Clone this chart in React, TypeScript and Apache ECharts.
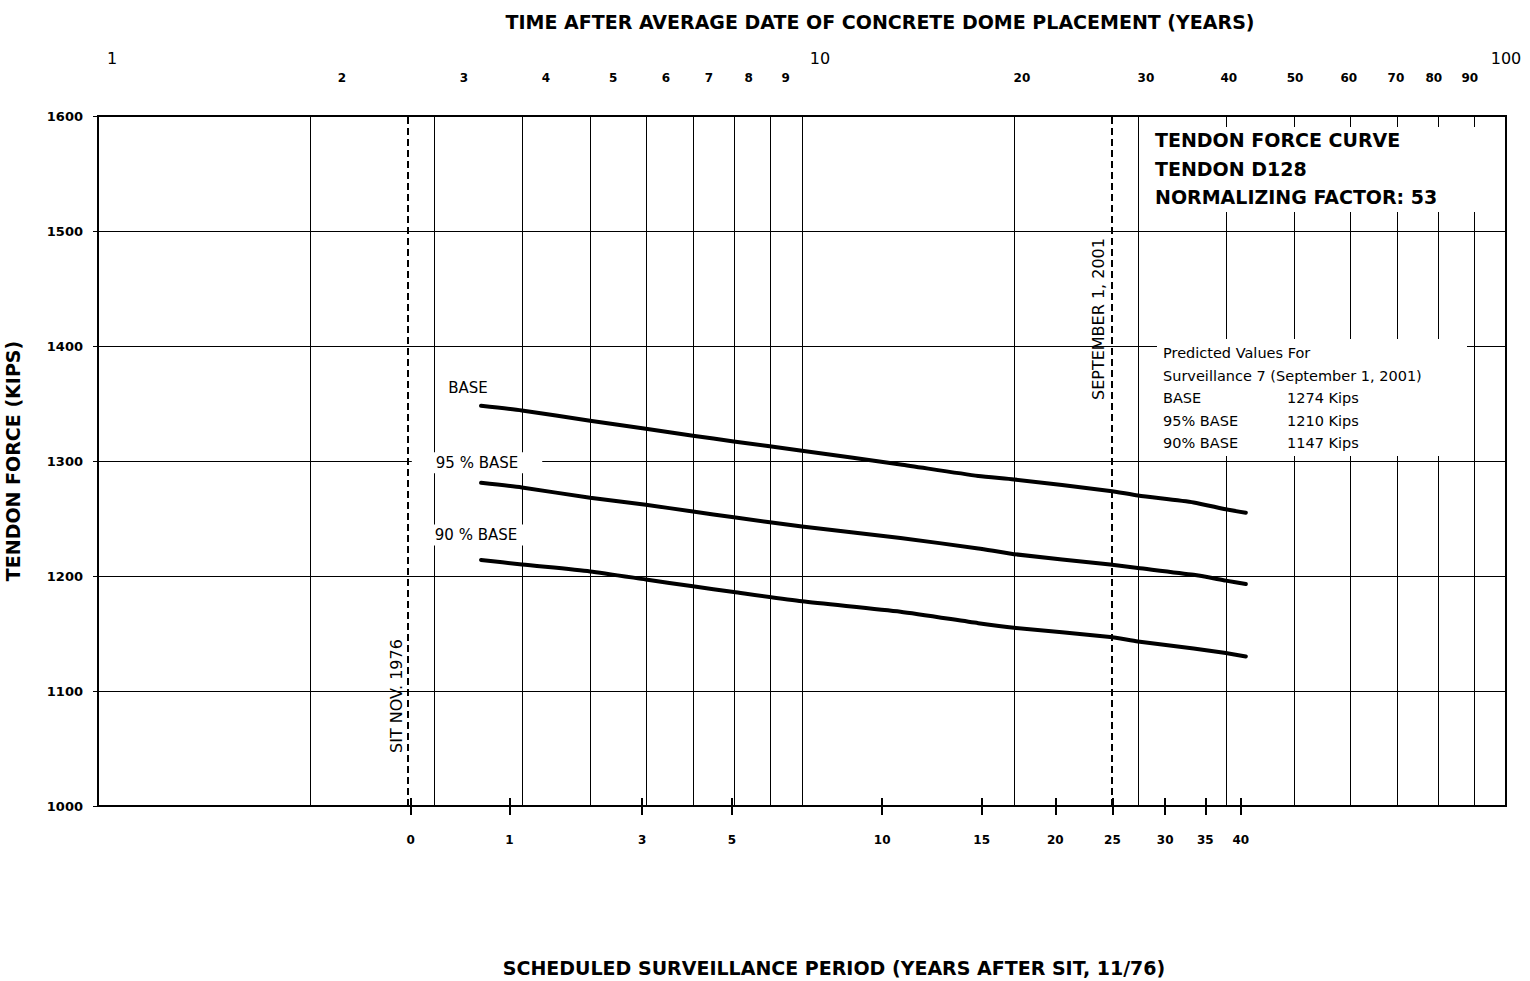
import React, { useEffect, useRef } from 'react';
import * as echarts from 'echarts';

// Time after average date of concrete dome placement (years) for plotted points
const years = [3.5, 4, 5, 6, 7, 8, 10, 13.8, 17.8, 20, 27.4, 30, 36, 40, 42.7];
const baseForce = [1348, 1344, 1335, 1328, 1322, 1317, 1309, 1297, 1287, 1284, 1274, 1270, 1264, 1258, 1255];
const base95Force = [1281, 1277, 1268, 1262, 1256, 1251, 1243, 1233, 1224, 1219, 1210, 1207, 1201, 1196, 1193];
const base90Force = [1214, 1210, 1204, 1197, 1191, 1186, 1178, 1169, 1159, 1155, 1147, 1143, 1137, 1133, 1130];

// Top (log) axis
const decadeLabels = [1, 10, 100];
const minorLabels = [2, 3, 4, 5, 6, 7, 8, 9, 20, 30, 40, 50, 60, 70, 80, 90];
const gridYears = [2, 3, 4, 5, 6, 7, 8, 9, 10, 20, 30, 40, 50, 60, 70, 80, 90];

// Bottom axis: scheduled surveillance period (years after SIT) and where they fall on the time axis
const surveillanceLabels = [0, 1, 3, 5, 10, 15, 20, 25, 30, 35, 40];
const surveillanceYears = [2.78, 3.84, 5.93, 7.95, 13.0, 18.0, 22.9, 27.6, 32.8, 37.4, 42.0];

// Reference dates on the time axis
const sitYear = 2.78;
const sept2001Year = 27.4;

// Force axis
const forceMin = 1000;
const forceMax = 1600;
const forceStep = 100;

// Annotation texts
const headerLines = ['TENDON FORCE CURVE', 'TENDON D128', 'NORMALIZING FACTOR: 53'];
const predictedHead = ['Predicted Values For', 'Surveillance 7 (September 1, 2001)'];
const predictedNames = ['BASE', '95% BASE', '90% BASE'];
const predictedValues = ['1274 Kips', '1210 Kips', '1147 Kips'];

// label shifts (style only) for the top axis labels, in px
const minorShift: Record<string, number> = {
  '2': 32, '3': 30, '4': 24, '5': 23, '6': 20, '7': 16, '8': 15, '9': 16,
  '20': 8, '30': 8, '40': 3, '50': 1, '60': -1, '70': -1, '80': -4, '90': -4,
};
const decadeShift: Record<string, number> = { '1': 14, '10': 18, '100': 0 };

const L = (v: number) => Math.log10(v);
const FONT = "'DejaVu Sans', sans-serif";

export default function App() {
  const ref = useRef<HTMLDivElement>(null);

  useEffect(() => {
    if (!ref.current) return;
    const chart = echarts.init(ref.current, null, { renderer: 'svg' });

    const minorRich: Record<string, any> = {};
    minorLabels.forEach((n) => {
      const s = minorShift[String(n)] || 0;
      minorRich['m' + n] = {
        fontFamily: FONT, fontSize: 12, fontWeight: 'bold', color: '#000',
        padding: s >= 0 ? [0, 0, 0, 2 * s] : [0, -2 * s, 0, 0],
      };
    });
    const decadeRich: Record<string, any> = {};
    decadeLabels.forEach((n) => {
      const s = decadeShift[String(n)] || 0;
      decadeRich['d' + n] = {
        fontFamily: FONT, fontSize: 16, color: '#000',
        padding: [0, 0, 0, 2 * s],
      };
    });

    const survLog = surveillanceYears.map(L);

    const makeData = (vals: number[], text: string, offset: number[], pad: number[]) =>
      years.map((y, i) => {
        const p = [L(y), vals[i]];
        if (i !== 0) return p;
        return {
          value: p,
          label: {
            show: true,
            formatter: text,
            position: 'top',
            distance: 5,
            offset,
            fontFamily: FONT,
            fontSize: 15,
            color: '#000',
            backgroundColor: '#fff',
            padding: pad,
          },
        };
      });

    const lineCommon = {
      type: 'line',
      xAxisIndex: 0,
      yAxisIndex: 0,
      symbol: 'circle',
      symbolSize: 0,
      showSymbol: true,
      smooth: 0.2,
      itemStyle: { color: 'rgba(0,0,0,0)' },
      lineStyle: { color: '#000', width: 4, cap: 'round', join: 'round' },
      label: { show: false },
      emphasis: { disabled: true },
      z: 3,
    };

    const textEl = (text: string, x: number, y: number, size: number, bold: boolean, align = 'left', rotation = 0) => ({
      type: 'text',
      x,
      y,
      rotation,
      z: 60,
      silent: true,
      style: {
        text,
        fill: '#000',
        fontFamily: FONT,
        fontSize: size,
        fontWeight: bold ? 'bold' : 'normal',
        align,
        textAlign: align,
        verticalAlign: 'middle',
        textVerticalAlign: 'middle',
      },
    });

    const graphics: any[] = [
      { type: 'rect', z: 50, silent: true, shape: { x: 1147, y: 127, width: 356, height: 85 }, style: { fill: '#fff' } },
      { type: 'rect', z: 50, silent: true, shape: { x: 1157, y: 339, width: 310, height: 117 }, style: { fill: '#fff' } },
      textEl('TIME AFTER AVERAGE DATE OF CONCRETE DOME PLACEMENT (YEARS)', 880, 22, 19, true, 'center'),
      textEl('SCHEDULED SURVEILLANCE PERIOD (YEARS AFTER SIT, 11/76)', 834, 968, 19, true, 'center'),
      textEl('SEPTEMBER 1, 2001', 1098, 319, 16, false, 'center', Math.PI / 2),
      textEl('SIT NOV. 1976', 396, 696, 16, false, 'center', Math.PI / 2),
    ];
    headerLines.forEach((t, i) => graphics.push(textEl(t, 1155, 140 + i * 28.5, 19, true)));
    predictedHead.forEach((t, i) => graphics.push(textEl(t, 1163, 353 + i * 22.5, 14.5, false)));
    predictedNames.forEach((t, i) => {
      graphics.push(textEl(t, 1163, 398 + i * 22.5, 14.5, false));
      graphics.push(textEl(predictedValues[i], 1287, 398 + i * 22.5, 14.5, false));
    });

    const option: any = {
      animation: false,
      backgroundColor: '#fff',
      grid: {
        left: 98, right: 24, top: 116, bottom: 175,
        show: true, borderColor: '#000', borderWidth: 2, backgroundColor: 'transparent',
        containLabel: false, outerBoundsMode: 'none',
      },
      xAxis: [
        {
          type: 'value', position: 'top', min: 0, max: 2,
          axisLine: { show: false },
          axisTick: { show: false, customValues: gridYears.map(L) },
          axisLabel: {
            customValues: minorLabels.map(L),
            margin: 32,
            formatter: (v: number) => {
              const n = Math.round(Math.pow(10, v));
              return `{m${n}|${n}}`;
            },
            rich: minorRich,
            fontFamily: FONT, fontSize: 12, fontWeight: 'bold', color: '#000',
          },
          splitLine: { show: true, lineStyle: { color: '#000', width: 1 } },
        },
        {
          type: 'value', position: 'top', min: 0, max: 2,
          axisLine: { show: false },
          axisTick: { show: false, customValues: decadeLabels.map(L) },
          axisLabel: {
            customValues: decadeLabels.map(L),
            margin: 50,
            formatter: (v: number) => {
              const n = Math.round(Math.pow(10, v));
              return `{d${n}|${n}}`;
            },
            rich: decadeRich,
            fontFamily: FONT, fontSize: 16, color: '#000',
          },
          splitLine: { show: false },
        },
        {
          type: 'value', position: 'bottom', min: 0, max: 2,
          axisLine: { show: false },
          axisTick: { show: true, customValues: survLog, length: 9, lineStyle: { color: '#000', width: 2 } },
          axisLabel: {
            customValues: survLog,
            margin: 28,
            formatter: (v: number) => {
              const i = survLog.findIndex((s) => Math.abs(s - v) < 1e-6);
              return i >= 0 ? String(surveillanceLabels[i]) : '';
            },
            fontFamily: FONT, fontSize: 12, fontWeight: 'bold', color: '#000',
          },
          splitLine: { show: false },
        },
        {
          type: 'value', position: 'bottom', min: 0, max: 2,
          axisLine: { show: false },
          axisTick: { show: true, inside: true, customValues: survLog, length: 8, lineStyle: { color: '#000', width: 2 } },
          axisLabel: { show: false },
          splitLine: { show: false },
        },
      ],
      yAxis: {
        type: 'value', min: forceMin, max: forceMax, interval: forceStep,
        name: 'TENDON FORCE (KIPS)',
        nameLocation: 'middle',
        nameGap: 76,
        nameTextStyle: { fontFamily: FONT, fontSize: 19, fontWeight: 'bold', color: '#000' },
        axisLine: { show: false },
        axisTick: { show: true, length: 5, lineStyle: { color: '#000', width: 1 } },
        axisLabel: {
          margin: 15, fontFamily: FONT, fontSize: 13, fontWeight: 'bold', color: '#000',
          formatter: (v: number) => String(v),
        },
        splitLine: { show: true, lineStyle: { color: '#000', width: 1 } },
      },
      series: [
        {
          ...lineCommon,
          name: 'BASE',
          data: makeData(baseForce, 'BASE', [-13, -2.5], [3, 12]),
          markLine: {
            silent: true,
            animation: false,
            symbol: ['none', 'none'],
            label: { show: false },
            lineStyle: { color: '#000', width: 2, type: [7, 4] },
            emphasis: { disabled: true },
            data: [{ xAxis: L(sitYear) }, { xAxis: L(sept2001Year) }],
          },
        },
        { ...lineCommon, name: '95 % BASE', data: makeData(base95Force, '95 % BASE', [-4, -4.5], [3, 24]) },
        { ...lineCommon, name: '90 % BASE', data: makeData(base90Force, '90 % BASE', [-5, -9.5], [3, 24]) },
      ],
      graphic: graphics,
    };

    chart.setOption(option);
    return () => chart.dispose();
  }, []);

  return (
    <div
      ref={ref}
      style={{ position: 'fixed', left: 0, top: 0, width: 1530, height: 981, background: '#fff' }}
    />
  );
}
